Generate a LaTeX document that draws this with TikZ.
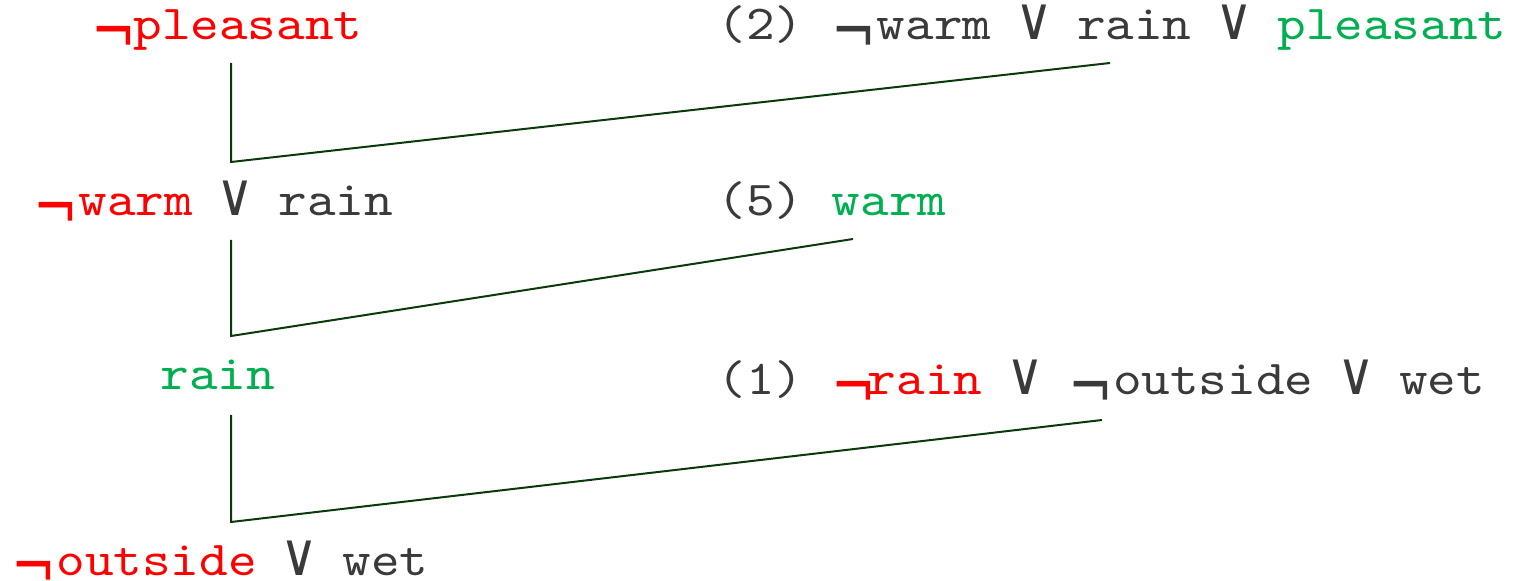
\documentclass[tikz,border=0pt]{standalone}
\usepackage{fontspec}
\newfontfamily\symf{DejaVu Sans}
\newfontfamily\monof{lmmono10-regular.otf}[FakeStretch=1.117]
\definecolor{tred}{HTML}{FF0000}
\definecolor{tgreen}{HTML}{00B050}
\definecolor{tgrey}{HTML}{3A3A3A}
\definecolor{lgreen}{HTML}{0A3A0A}
\newlength\pxu \setlength\pxu{0.5pt}
\newcommand\NEG[1][45]{\makebox[#1\pxu][l]{\fontsize{23.85pt}{28pt}\symf\smash{\raisebox{-0.3em}{\scalebox{1.12}[1.4]{¬}}}}}
\newcommand\OR{\makebox[14.3pt]{\fontsize{23.85pt}{28pt}\symf\smash{\scalebox{1.08}[1.25]{∨}}}}
\newcommand\SP{\hspace*{14.3pt}}
\begin{document}
\begin{tikzpicture}[x=0.5pt,y=-0.5pt,
  txt/.style={anchor=base west,inner sep=0pt,font=\monof\fontsize{24.4pt}{28pt}\selectfont},
  conn/.style={draw=lgreen,line width=1pt}]
\useasboundingbox (0,0) rectangle (1518,581);
\node[txt] (n1) at (91,40) {\color{tred}\NEG[42]pleasant};
\node[txt] (n2) at (717,40) {\color{tgrey}(2)\SP\NEG warm\SP\OR\SP rain\SP\OR\SP\textcolor{tgreen}{pleasant}};
\node[txt] (n3) at (33,216) {\color{tred}\NEG warm\textcolor{tgrey}{\SP\OR\SP rain}};
\node[txt] (n4) at (717,216) {\color{tgrey}(5)\SP\textcolor{tgreen}{warm}};
\node[txt] (n5) at (160,390) {\color{tgreen}rain};
\node[txt] (n6) at (717,395) {\color{tgrey}(1)\SP\textcolor{tred}{\NEG[36]rain}\SP\OR\SP\NEG outside\SP\OR\SP wet};
\node[txt] (n7) at (11,575) {\color{tred}\NEG outside\textcolor{tgrey}{\SP\OR\SP wet}};
\coordinate (a1) at (231,63);
\coordinate (b1) at (231,162);
\coordinate (e1) at (1110,63);
\coordinate (a2) at (231,240);
\coordinate (b2) at (231,336);
\coordinate (e2) at (853,239);
\coordinate (a3) at (231,415);
\coordinate (b3) at (231,522);
\coordinate (e3) at (1102,420);
\draw[conn] (a1) -- (b1) -- (e1);
\draw[conn] (a2) -- (b2) -- (e2);
\draw[conn] (a3) -- (b3) -- (e3);
\end{tikzpicture}
\end{document}
